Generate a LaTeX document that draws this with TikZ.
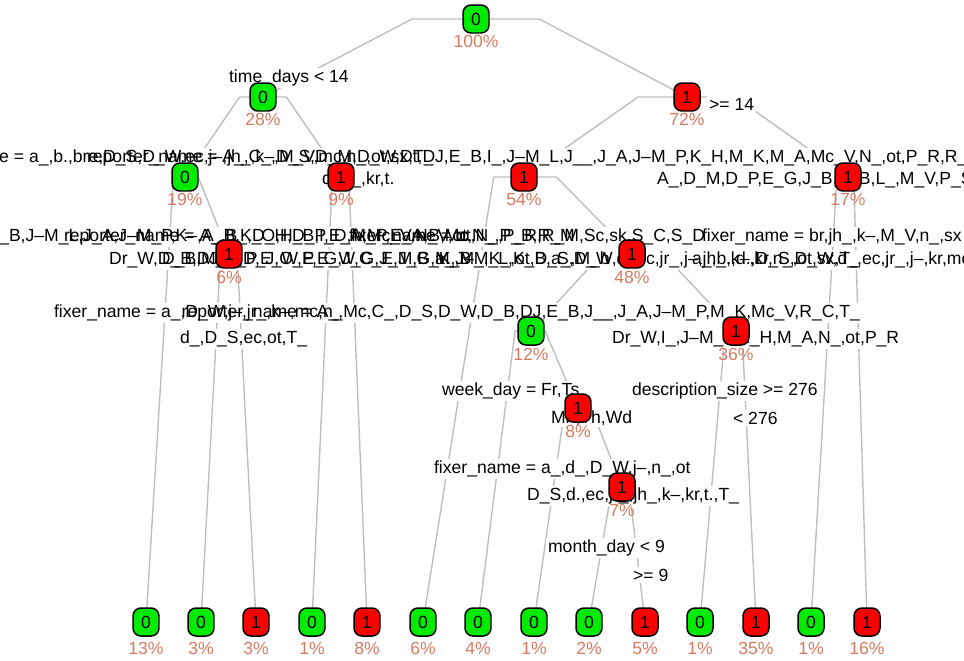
\documentclass[tikz,border=0pt]{standalone}
\usepackage{fontspec}
\setmainfont{Liberation Sans}
\usetikzlibrary{calc}
\definecolor{nodegreen}{RGB}{0,235,0}
\definecolor{nodered}{RGB}{250,0,0}
\definecolor{pctcol}{RGB}{214,122,98}
\definecolor{brcol}{RGB}{190,190,190}
\pgfdeclarelayer{bg}
\pgfdeclarelayer{mid}
\pgfsetlayers{bg,mid,main}
\tikzset{
  tbox/.style={draw=black, line width=0.85pt, rounded corners=4.5pt, minimum width=0.52cm, minimum height=0.56cm, inner sep=0pt, font=\fontsize{10}{12}\selectfont},
  gbox/.style={tbox, fill=nodegreen},
  rbox/.style={tbox, fill=nodered},
  pct/.style={text=pctcol, inner sep=0pt, font=\fontsize{10}{12}\selectfont},
  lbltxt/.style={inner sep=1pt, font=\fontsize{10}{12}\selectfont},
  lblbg/.style={lbltxt, fill=white, text=white},
  branch/.style={draw=brcol, line width=0.8pt},
}
% tree node: name, x, y, style, class, percent y, percent
\newcommand\tn[7]{\node[#4] (#1) at (#2,#3) {#5}; \node[pct] (#1p) at (#2,#6) {#7};}
% split label: name, x, y, anchor, text
\newcommand\lbl[5]{%
  \begin{pgfonlayer}{mid}\node[lblbg,anchor=#4] (#1bg) at (#2,#3) {#5};\end{pgfonlayer}
  \node[lbltxt,anchor=#4] (#1) at (#2,#3) {#5};}
% branch: parent, child
\newcommand\br[2]{%
  \begin{pgfonlayer}{bg}
  \path ($(#1.center)!0.3!(#2.center)$) coordinate (#1#2s);
  \draw[branch] (#1.center) -- (#1#2s |- #1.center) -- (#2.center);
  \end{pgfonlayer}}
\begin{document}
\begin{tikzpicture}[x=0.02cm, y=-0.02cm]
\useasboundingbox (0,0) rectangle (964,660);
% split labels
\lbl{s1}{227}{78}{west}{time\_days < 14}
\lbl{s2}{707}{104}{west}{>= 14}
\lbl{s3}{-80}{158}{west}{fixer\_name = a\_,b.,bre,D\_S,D\_W,ec,j–,jh\_,k–,M\_V,mc,n\_,ot,sx,T\_}
\lbl{s4}{85}{158}{west}{reporter\_name = A\_,C\_,D\_S,D\_M,D\_W,Dt,DJ,E\_B,I\_,J–M\_L,J\_\_,J\_A,J–M\_P,K\_H,M\_K,M\_A,Mc\_V,N\_,ot,P\_R,R\_C}
\lbl{s5}{320}{180}{west}{d.,d\_,kr,t.}
\lbl{s6}{655}{180}{west}{A\_,D\_M,D\_P,E\_G,J\_B,K\_B,L\_,M\_V,P\_S,R\_M}
\lbl{s7}{-142}{237}{west}{fixer\_name = b.,D\_B,J–M\_L,J\_A,J–M\_P,K–,A\_B,K\_O,H\_B,I\_D,M\_P,E\_A,B,Mc}
\lbl{s8}{62}{237}{west}{reporter\_name = A\_,B\_,D\_H,D\_P,E\_A,Mc\_V,N\_V,ot,N\_,P\_B,R\_M}
\lbl{s9}{347}{237}{west}{fixer\_name = ot,N\_,P\_R,R\_M,Sc,sk,S\_C,S\_D}
\lbl{s10}{700}{237}{west}{fixer\_name = br,jh\_,k–,M\_V,n\_,sx}
\lbl{s11}{107}{260}{west}{Dr\_W,D\_B,DJ,D\_P,E\_W,E\_G,J\_G,J\_M,B\_K,J–M\_L,K\_B,a\_,M\_b}
\lbl{s12}{160}{260}{west}{D\_B,M\_D,D\_J,O\_P,E\_W,C\_E,J\_G,M\_B}
\lbl{s13}{433}{260}{west}{a\_,M\_,K\_,ot,D\_S,D\_W,d.,ec,jr\_,j–,jh\_,k–,kr,n\_,ot,sx,T\_}
\lbl{s14}{690}{260}{west}{a\_,b.,d.,D\_S,D\_W,d\_,ec,jr\_,j–,kr,mc,ot}
\lbl{s15}{52}{313}{west}{fixer\_name = a\_,D\_W,j–,jr\_,k–,mc,n\_}
\lbl{s16}{862}{313}{east}{reporter\_name = A\_,Mc,C\_,D\_S,D\_W,D\_B,DJ,E\_B,J\_\_,J\_A,J–M\_P,M\_K,Mc\_V,R\_C,T\_}
\lbl{s17}{178}{339}{west}{d\_,D\_S,ec,ot,T\_}
\lbl{s18}{610}{339}{west}{Dr\_W,I\_,J–M\_L,K\_H,M\_A,N\_,ot,P\_R}
\lbl{s19}{440}{391}{west}{week\_day = Fr,Ts}
\lbl{s20}{630}{391}{west}{description\_size >= 276}
\lbl{s21}{549}{418}{west}{Mn,Th,Wd}
\lbl{s22}{731}{418}{west}{< 276}
\lbl{s23}{432}{469}{west}{fixer\_name = a\_,d\_,D\_W,j–,n\_,ot}
\lbl{s24}{525}{496}{west}{D\_S,d.,ec,jr\_,jh\_,k–,kr,t.,T\_}
\lbl{s25}{546}{548}{west}{month\_day < 9}
\lbl{s26}{631}{575}{west}{>= 9}
% internal nodes
\tn{n0}{476}{19}{gbox}{0}{41}{100\%}
\tn{n1}{263}{97}{gbox}{0}{119}{28\%}
\tn{n2}{687}{97}{rbox}{1}{119}{72\%}
\tn{n3}{185}{177}{gbox}{0}{199}{19\%}
\tn{n4}{341}{177}{rbox}{1}{199}{9\%}
\tn{n5}{524}{177}{rbox}{1}{199}{54\%}
\tn{n6}{848}{177}{rbox}{1}{199}{17\%}
\tn{n7}{229}{254}{rbox}{1}{277}{6\%}
\tn{n8}{632}{254}{rbox}{1}{277}{48\%}
\tn{n9}{531}{331}{gbox}{0}{354}{12\%}
\tn{n10}{736}{331}{rbox}{1}{354}{36\%}
\tn{n11}{578}{408}{rbox}{1}{431}{8\%}
\tn{n12}{622}{487}{rbox}{1}{510}{7\%}
% leaves
\tn{l1}{146}{622}{gbox}{0}{648}{13\%}
\tn{l2}{201}{622}{gbox}{0}{648}{3\%}
\tn{l3}{256}{622}{rbox}{1}{648}{3\%}
\tn{l4}{312}{622}{gbox}{0}{648}{1\%}
\tn{l5}{367}{622}{rbox}{1}{648}{8\%}
\tn{l6}{423}{622}{gbox}{0}{648}{6\%}
\tn{l7}{478}{622}{gbox}{0}{648}{4\%}
\tn{l8}{534}{622}{gbox}{0}{648}{1\%}
\tn{l9}{589}{622}{gbox}{0}{648}{2\%}
\tn{l10}{645}{622}{rbox}{1}{648}{5\%}
\tn{l11}{700}{622}{gbox}{0}{648}{1\%}
\tn{l12}{756}{622}{rbox}{1}{648}{35\%}
\tn{l13}{811}{622}{gbox}{0}{648}{1\%}
\tn{l14}{867}{622}{rbox}{1}{648}{16\%}
% branches
\br{n0}{n1}\br{n0}{n2}
\br{n1}{n3}\br{n1}{n4}
\br{n2}{n5}\br{n2}{n6}
\br{n3}{l1}\br{n3}{n7}
\br{n7}{l2}\br{n7}{l3}
\br{n4}{l4}\br{n4}{l5}
\br{n5}{l6}\br{n5}{n8}
\br{n8}{n9}\br{n8}{n10}
\br{n9}{l7}\br{n9}{n11}
\br{n11}{l8}\br{n11}{n12}
\br{n12}{l9}\br{n12}{l10}
\br{n10}{l11}\br{n10}{l12}
\br{n6}{l13}\br{n6}{l14}
\end{tikzpicture}
\end{document}
